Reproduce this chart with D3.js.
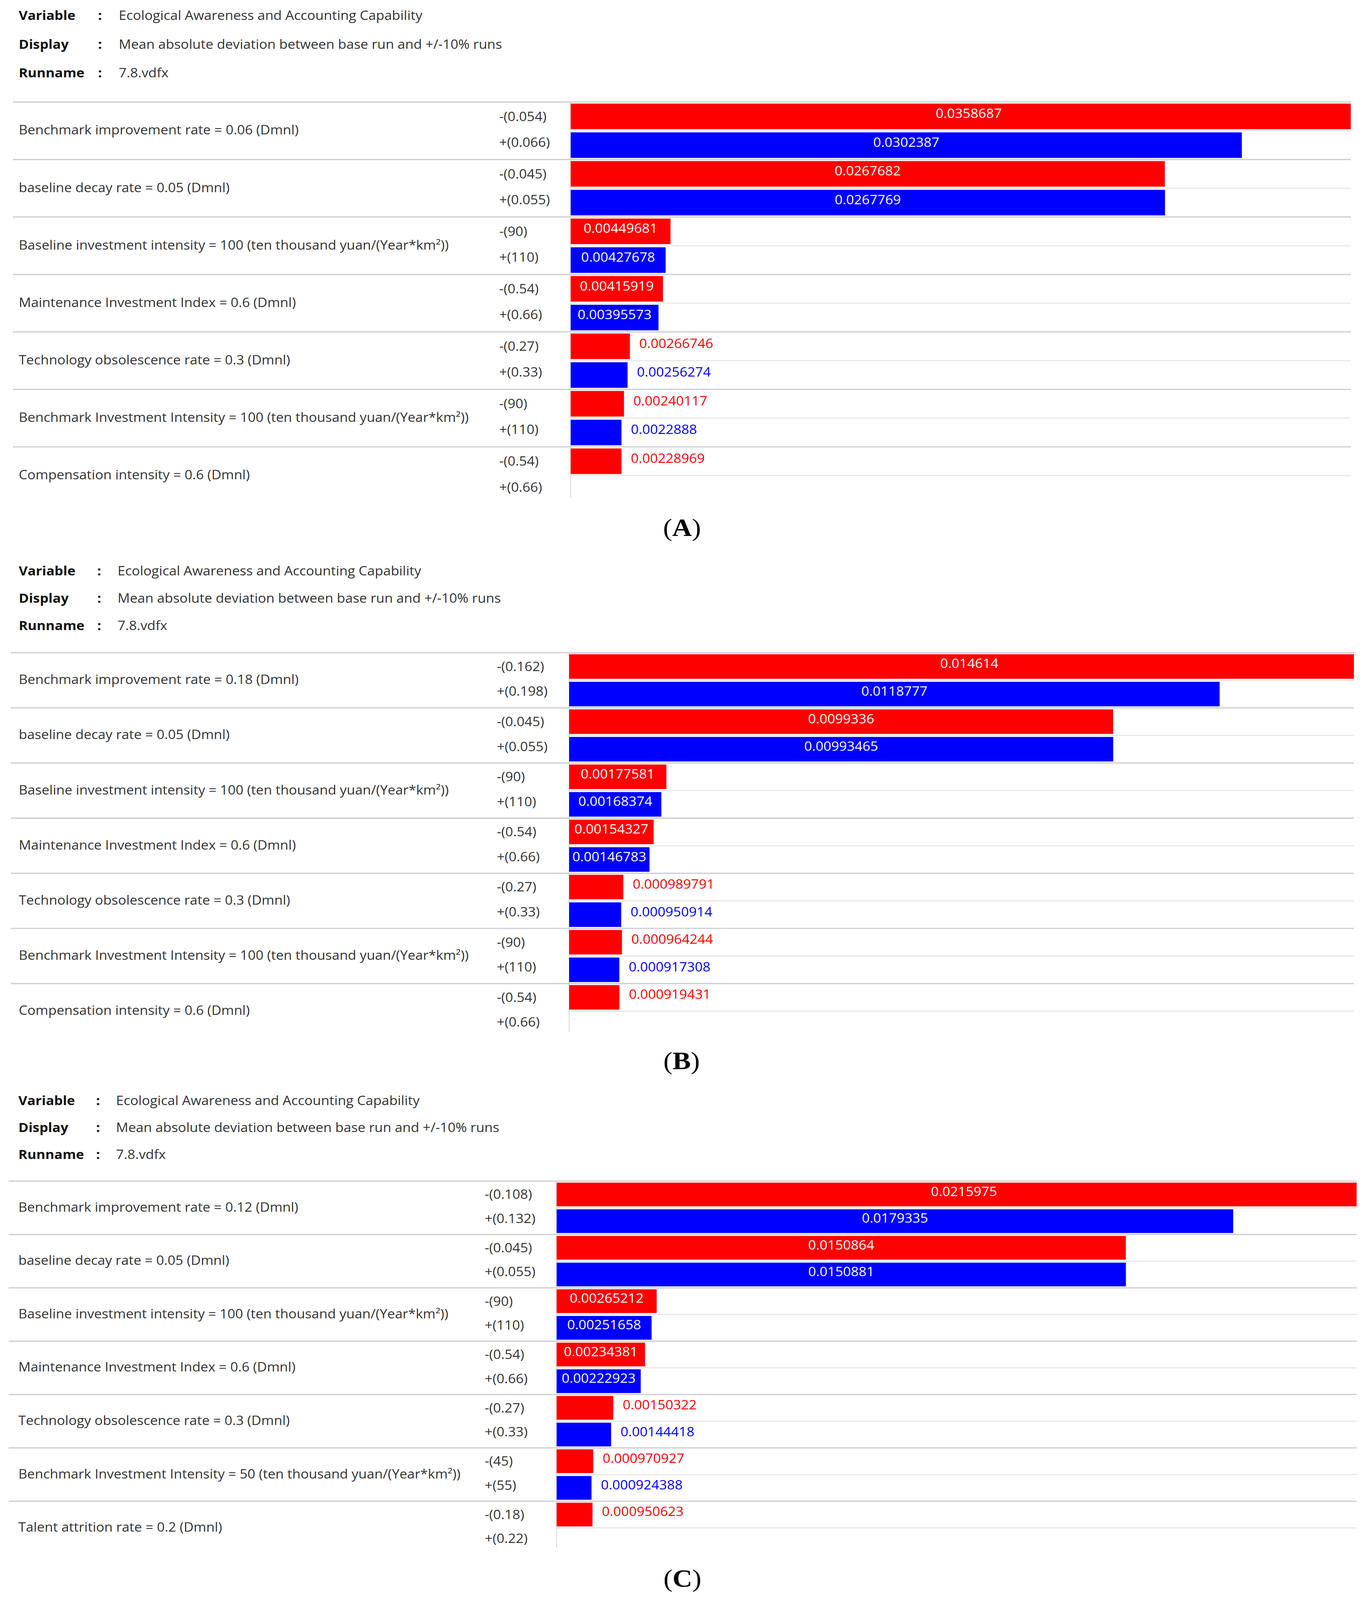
<!DOCTYPE html>
<html>
<head>
<meta charset="utf-8">
<script src="https://cdn.jsdelivr.net/npm/d3@7/dist/d3.min.js"></script>
<style>
  html, body { margin: 0; padding: 0; background: #ffffff; overflow: hidden; }
  svg { display: block; }
  svg text { font-family: "Open Sans", "Noto Sans", sans-serif; }
</style>
</head>
<body>
<script>
// En-tête commun aux trois panneaux
const headerKeys = ["Variable", "Display", "Runname"];
const headerValues = [
    "Ecological Awareness and Accounting Capability",
    "Mean absolute deviation between base run and +/-10% runs",
    "7.8.vdfx"
];

// Panneau A
const paramsA = [
    "Benchmark improvement rate = 0.06 (Dmnl)",
    "baseline decay rate = 0.05 (Dmnl)",
    "Baseline investment intensity = 100 (ten thousand yuan/(Year*km²))",
    "Maintenance Investment Index = 0.6 (Dmnl)",
    "Technology obsolescence rate = 0.3 (Dmnl)",
    "Benchmark Investment Intensity = 100 (ten thousand yuan/(Year*km²))",
    "Compensation intensity = 0.6 (Dmnl)"
];
const lowTagsA = ["-(0.054)", "-(0.045)", "-(90)", "-(0.54)", "-(0.27)", "-(90)", "-(0.54)"];
const highTagsA = ["+(0.066)", "+(0.055)", "+(110)", "+(0.66)", "+(0.33)", "+(110)", "+(0.66)"];
const lowValuesA = [0.0358687, 0.0267682, 0.00449681, 0.00415919, 0.00266746, 0.00240117, 0.00228969];
const highValuesA = [0.0302387, 0.0267769, 0.00427678, 0.00395573, 0.00256274, 0.0022888, null];

// Panneau B
const paramsB = [
    "Benchmark improvement rate = 0.18 (Dmnl)",
    "baseline decay rate = 0.05 (Dmnl)",
    "Baseline investment intensity = 100 (ten thousand yuan/(Year*km²))",
    "Maintenance Investment Index = 0.6 (Dmnl)",
    "Technology obsolescence rate = 0.3 (Dmnl)",
    "Benchmark Investment Intensity = 100 (ten thousand yuan/(Year*km²))",
    "Compensation intensity = 0.6 (Dmnl)"
];
const lowTagsB = ["-(0.162)", "-(0.045)", "-(90)", "-(0.54)", "-(0.27)", "-(90)", "-(0.54)"];
const highTagsB = ["+(0.198)", "+(0.055)", "+(110)", "+(0.66)", "+(0.33)", "+(110)", "+(0.66)"];
const lowValuesB = [0.014614, 0.0099336, 0.00177581, 0.00154327, 0.000989791, 0.000964244, 0.000919431];
const highValuesB = [0.0118777, 0.00993465, 0.00168374, 0.00146783, 0.000950914, 0.000917308, null];

// Panneau C
const paramsC = [
    "Benchmark improvement rate = 0.12 (Dmnl)",
    "baseline decay rate = 0.05 (Dmnl)",
    "Baseline investment intensity = 100 (ten thousand yuan/(Year*km²))",
    "Maintenance Investment Index = 0.6 (Dmnl)",
    "Technology obsolescence rate = 0.3 (Dmnl)",
    "Benchmark Investment Intensity = 50 (ten thousand yuan/(Year*km²))",
    "Talent attrition rate = 0.2 (Dmnl)"
];
const lowTagsC = ["-(0.108)", "-(0.045)", "-(90)", "-(0.54)", "-(0.27)", "-(45)", "-(0.18)"];
const highTagsC = ["+(0.132)", "+(0.055)", "+(110)", "+(0.66)", "+(0.33)", "+(55)", "+(0.22)"];
const lowValuesC = [0.0215975, 0.0150864, 0.00265212, 0.00234381, 0.00150322, 0.000970927, 0.000950623];
const highValuesC = [0.0179335, 0.0150881, 0.00251658, 0.00222923, 0.00144418, 0.000924388, null];

const RED = "#ff0000";
const BLUE = "#0000ff";
const FONT = 35;
const W = 3497;
const H = 4454;

// Mise en page de chaque panneau (positions en pixels)
const panels = [
    {
        tag: "A", params: paramsA, lowTags: lowTagsA, highTags: highTagsA, low: lowValuesA, high: highValuesA,
        headerY: 43, headerStep: 80, keyX: 48, colonX: 251, valueX: 304,
        top: 284, rowH: 160, lineLeft: 33, labelX: 48, tagX: 1278,
        x0: 1461, x1: 3499, clipRight: 3458, letterX: 1746, letterY: 1474
    },
    {
        tag: "B", params: paramsB, lowTags: lowTagsB, highTags: highTagsB, low: lowValuesB, high: highValuesB,
        headerY: 1589, headerStep: 76, keyX: 48, colonX: 249, valueX: 301,
        top: 1817, rowH: 153.5, lineLeft: 28, labelX: 48, tagX: 1272,
        x0: 1457, x1: 3506, clipRight: 3466, letterX: 1745, letterY: 2959
    },
    {
        tag: "C", params: paramsC, lowTags: lowTagsC, highTags: highTagsC, low: lowValuesC, high: highValuesC,
        headerY: 3064, headerStep: 75, keyX: 47, colonX: 246, valueX: 297,
        top: 3288, rowH: 148.5, lineLeft: 22, labelX: 47, tagX: 1241,
        x0: 1425, x1: 3511, clipRight: 3473, letterX: 1747, letterY: 4399
    }
];

// Le SVG remplit la fenêtre, le dessin garde ses coordonnées 3497x4454
const svg = d3.select("body").append("svg")
    .attr("width", window.innerWidth || W)
    .attr("height", window.innerHeight || H)
    .attr("viewBox", `0 0 ${W} ${H}`)
    .attr("preserveAspectRatio", "none");

svg.append("rect").attr("width", W).attr("height", H).attr("fill", "#ffffff");

panels.forEach((p, i) => drawPanel(svg, p, i));

function drawPanel(svg, p, i) {
    const g = svg.append("g").attr("class", "panel-" + p.tag);
    const n = p.params.length;

    drawHeader(g, p);

    // Echelles
    const maxVal = d3.max(p.low.concat(p.high.filter(v => v != null)));
    const x = d3.scaleLinear().domain([0, maxVal]).range([p.x0, p.x1]);
    const rows = d3.scaleBand().domain(d3.range(n)).range([p.top, p.top + n * p.rowH]);
    const slots = d3.scaleBand().domain(["low", "high"]).range([0, p.rowH])
        .paddingInner(0.11).paddingOuter(0.055);

    // Zone de découpe (le graphique est rogné à droite)
    const clipId = "clip-" + p.tag;
    g.append("clipPath").attr("id", clipId)
        .append("rect").attr("x", 0).attr("y", p.top - 10)
        .attr("width", p.clipRight).attr("height", n * p.rowH + 20);

    const plot = g.append("g").attr("clip-path", `url(#${clipId})`);

    // Lignes de séparation entre lignes
    plot.selectAll(".sep")
        .data(d3.range(n))
        .enter()
        .append("line")
        .attr("class", "sep")
        .attr("x1", p.lineLeft)
        .attr("x2", p.clipRight)
        .attr("y1", (d) => rows(d))
        .attr("y2", (d) => rows(d))
        .style("stroke", "#cfcfcf")
        .style("stroke-width", 3.5);

    // Lignes intermédiaires (entre - et +)
    plot.selectAll(".mid")
        .data(d3.range(n))
        .enter()
        .append("line")
        .attr("class", "mid")
        .attr("x1", p.x0)
        .attr("x2", p.clipRight)
        .attr("y1", (d) => rows(d) + p.rowH / 2)
        .attr("y2", (d) => rows(d) + p.rowH / 2)
        .style("stroke", "#e6e6e6")
        .style("stroke-width", 3);

    // Axe vertical
    plot.append("line")
        .attr("x1", p.x0).attr("x2", p.x0)
        .attr("y1", p.top)
        .attr("y2", rows(n - 1) + p.rowH * 0.875)
        .style("stroke", "#d6d6d6")
        .style("stroke-width", 2);

    // Données des barres
    const bars = [];
    for (let k = 0; k < n; k++) {
        bars.push({ row: k, side: "low", value: p.low[k] });
        if (p.high[k] != null) bars.push({ row: k, side: "high", value: p.high[k] });
    }

    plot.selectAll(".bar")
        .data(bars)
        .enter()
        .append("rect")
        .attr("class", "bar")
        .attr("x", x(0))
        .attr("y", (d) => rows(d.row) + slots(d.side))
        .attr("width", (d) => x(d.value) - x(0))
        .attr("height", slots.bandwidth())
        .style("fill", (d) => d.side === "low" ? RED : BLUE);

    // Valeurs : dans la barre si elle est assez large, sinon à droite
    plot.selectAll(".val")
        .data(bars)
        .enter()
        .append("text")
        .attr("class", "val")
        .attr("y", (d) => rows(d.row) + slots(d.side) + slots.bandwidth() / 2 - 8 + FONT * 0.36)
        .style("font-size", FONT + "px")
        .text((d) => String(d.value))
        .each(function (d) {
            const t = d3.select(this);
            const w = this.getComputedTextLength();
            const barW = x(d.value) - x(0);
            if (w + 12 <= barW) {
                t.attr("x", (x(0) + x(d.value)) / 2)
                    .attr("text-anchor", "middle")
                    .style("fill", "#ffffff");
            } else {
                t.attr("x", x(d.value) + 24)
                    .attr("text-anchor", "start")
                    .style("fill", d.side === "low" ? RED : BLUE);
            }
        });

    // Libellés des paramètres
    g.selectAll(".param")
        .data(p.params)
        .enter()
        .append("text")
        .attr("class", "param")
        .attr("x", p.labelX)
        .attr("y", (d, k) => rows(k) + p.rowH / 2 + FONT * 0.36 - 2)
        .style("font-size", FONT + "px")
        .style("fill", "#333333")
        .text((d) => d);

    // Libellés -(x) et +(x)
    g.selectAll(".lowtag")
        .data(p.lowTags)
        .enter()
        .append("text")
        .attr("class", "lowtag")
        .attr("x", p.tagX)
        .attr("y", (d, k) => rows(k) + p.rowH * 0.25 + FONT * 0.36)
        .style("font-size", FONT + "px")
        .style("fill", "#333333")
        .text((d) => d);

    g.selectAll(".hightag")
        .data(p.highTags)
        .enter()
        .append("text")
        .attr("class", "hightag")
        .attr("x", p.tagX)
        .attr("y", (d, k) => rows(k) + p.rowH * 0.7 + FONT * 0.36)
        .style("font-size", FONT + "px")
        .style("fill", "#333333")
        .text((d) => d);

    // Lettre du panneau
    const letter = g.append("text")
        .attr("x", p.letterX)
        .attr("y", p.letterY + 70 * 0.25)
        .attr("text-anchor", "middle")
        .style("font-family", "'Liberation Serif', 'Times New Roman', serif")
        .style("font-size", "70px")
        .style("fill", "#000000");
    letter.append("tspan").text("(");
    letter.append("tspan").style("font-weight", "bold").text(p.tag);
    letter.append("tspan").text(")");
}

function drawHeader(g, p) {
    const hy = (k) => p.headerY + k * p.headerStep + FONT * 0.36;

    g.selectAll(".hkey")
        .data(headerKeys)
        .enter()
        .append("text")
        .attr("class", "hkey")
        .attr("x", p.keyX)
        .attr("y", (d, k) => hy(k))
        .style("font-size", FONT + "px")
        .style("font-weight", "bold")
        .style("fill", "#111111")
        .text((d) => d);

    g.selectAll(".hcolon")
        .data(headerKeys)
        .enter()
        .append("text")
        .attr("class", "hcolon")
        .attr("x", p.colonX)
        .attr("y", (d, k) => hy(k))
        .style("font-size", FONT + "px")
        .style("font-weight", "bold")
        .style("fill", "#111111")
        .text(":");

    g.selectAll(".hval")
        .data(headerValues)
        .enter()
        .append("text")
        .attr("class", "hval")
        .attr("x", p.valueX)
        .attr("y", (d, k) => hy(k))
        .style("font-size", FONT + "px")
        .style("fill", "#333333")
        .text((d) => d);
}
</script>
</body>
</html>
